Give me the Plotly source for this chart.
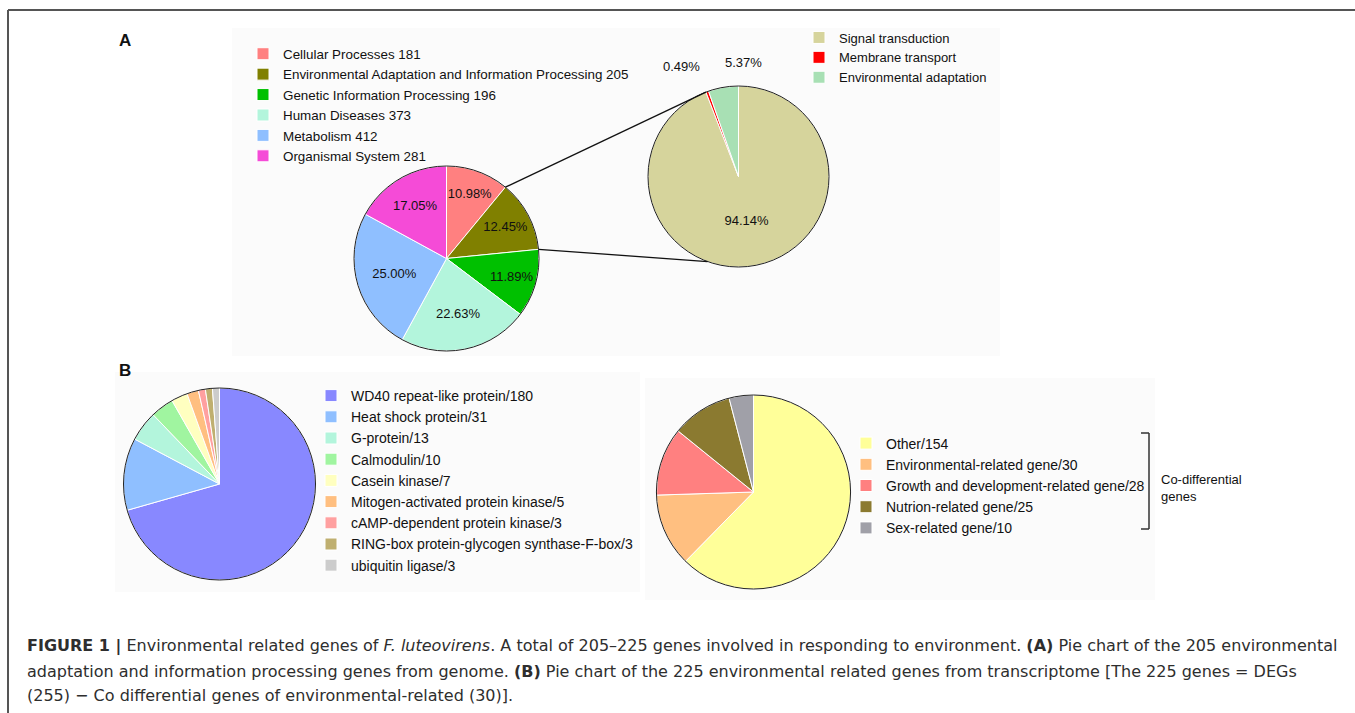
import math
import plotly.graph_objects as go

W, H = 1355, 713

# ---------------- data ----------------
a_cats = ["Cellular Processes", "Environmental Adaptation and Information Processing",
          "Genetic Information Processing", "Human Diseases", "Metabolism", "Organismal System"]
a_counts = [181, 205, 196, 373, 412, 281]
a_pct = ["10.98%", "12.45%", "11.89%", "22.63%", "25.00%", "17.05%"]
a_colors = ["#FF8080", "#808000", "#00C000", "#B3F5DC", "#8FBFFF", "#F54BD7"]

a2_cats = ["Signal transduction", "Membrane transport", "Environmental adaptation"]
a2_values = [94.14, 0.49, 5.37]
a2_pct = ["94.14%", "0.49%", "5.37%"]
a2_colors = ["#D6D49C", "#FF0000", "#A8E0B4"]

b1_cats = ["WD40 repeat-like protein", "Heat shock protein", "G-protein", "Calmodulin",
           "Casein kinase", "Mitogen-activated protein kinase", "cAMP-dependent protein kinase",
           "RING-box protein-glycogen synthase-F-box", "ubiquitin ligase"]
b1_counts = [180, 31, 13, 10, 7, 5, 3, 3, 3]
b1_colors = ["#8888FF", "#8FBFFF", "#B3F5DC", "#A0F5A0", "#FFFFC0", "#FFBF80",
             "#FFA0A0", "#BFAF70", "#CCCCCC"]

b2_cats = ["Other", "Environmental-related gene", "Growth and development-related gene",
           "Nutrion-related gene", "Sex-related gene"]
b2_counts = [154, 30, 28, 25, 10]
b2_colors = ["#FFFF99", "#FFBF80", "#FF8080", "#8B7A30", "#A0A0A8"]

caption_lines = [
    "<b>FIGURE 1 |</b> Environmental related genes of <i>F. luteovirens</i>. A total of 205–225 genes involved in responding to environment. <b>(A)</b> Pie chart of the 205 environmental",
    "adaptation and information processing genes from genome. <b>(B)</b> Pie chart of the 225 environmental related genes from transcriptome [The 225 genes = DEGs",
    "(255) − Co differential genes of environmental-related (30)].",
]

FONT = "Arial, Liberation Sans, sans-serif"
CAP_FONT = "DejaVu Sans, Open Sans, sans-serif"

# ---------------- geometry helpers (pixels -> paper) ----------------
def px(x):
    return x / W

def py(y):
    return 1 - y / H

def dom(cx, cy, r):
    return dict(x=[px(cx - r), px(cx + r)], y=[py(cy + r), py(cy - r)])

PA = (446.5, 258.5, 92.5)
PA2 = (738.5, 176.5, 90.5)
PB1 = (219.5, 484.0, 96.0)
PB2 = (753.5, 492.0, 97.0)

fig = go.Figure()

def add_pie(labels, values, colors, geom, legend, text=None, textpos="none"):
    fig.add_trace(go.Pie(
        labels=labels, values=values, sort=False, direction="clockwise", rotation=0,
        marker=dict(colors=colors, line=dict(color="white", width=1)),
        text=text, textinfo="text" if text is not None else "none",
        textposition=textpos, insidetextorientation="horizontal",
        textfont=dict(family=FONT, size=13, color="#111"),
        domain=dom(*geom), legend=legend, hoverinfo="label+value+percent",
    ))
    # black outer outline
    fig.add_trace(go.Pie(
        values=[1], labels=[" "], marker=dict(colors=["rgba(0,0,0,0)"], line=dict(color="#222", width=1)),
        textinfo="none", showlegend=False, hoverinfo="skip", domain=dom(*geom), sort=False,
    ))

add_pie([f"{c} {n}" for c, n in zip(a_cats, a_counts)], a_counts, a_colors, PA, "legend",
        text=a_pct, textpos="inside")
add_pie(a2_cats, a2_values, a2_colors, PA2, "legend2",
        text=a2_pct, textpos=["inside", "none", "none"])
add_pie([f"{c}/{n}" for c, n in zip(b1_cats, b1_counts)], b1_counts, b1_colors, PB1, "legend3")
add_pie([f"{c}/{n}" for c, n in zip(b2_cats, b2_counts)], b2_counts, b2_colors, PB2, "legend4")

# ---------------- shapes ----------------
shapes = []
# faint panel backgrounds
for x0, y0, x1, y1 in [(232, 28, 1000, 356), (115, 372, 640, 592), (645, 378, 1155, 600)]:
    shapes.append(dict(type="rect", xref="paper", yref="paper", x0=px(x0), x1=px(x1),
                       y0=py(y1), y1=py(y0), fillcolor="#FBFBFB", line=dict(width=0), layer="below"))

def on_circle(geom, frac):
    cx, cy, r = geom
    t = 2 * math.pi * frac
    return cx + r * math.sin(t), cy - r * math.cos(t)

tot_a = sum(a_counts)
s1 = on_circle(PA, a_counts[0] / tot_a)
s2 = on_circle(PA, (a_counts[0] + a_counts[1]) / tot_a)
e1 = on_circle(PA2, a2_values[0] / sum(a2_values))
e2 = on_circle(PA2, 200 / 360)
for (x0, y0), (x1, y1) in [(s1, e1), (s2, e2)]:
    shapes.append(dict(type="line", xref="paper", yref="paper", x0=px(x0), y0=py(y0),
                       x1=px(x1), y1=py(y1), line=dict(color="#111", width=1.3)))

# bracket
for x0, y0, x1, y1 in [(1149, 433, 1149, 529), (1141, 433, 1149, 433), (1141, 529, 1149, 529)]:
    shapes.append(dict(type="line", xref="paper", yref="paper", x0=px(x0), y0=py(y0),
                       x1=px(x1), y1=py(y1), line=dict(color="#333", width=1.5)))

# figure frame (left and top)
shapes.append(dict(type="line", xref="paper", yref="paper", x0=px(8), y0=py(10), x1=px(8), y1=0,
                   line=dict(color="#555", width=2)))
shapes.append(dict(type="line", xref="paper", yref="paper", x0=px(8), y0=py(10), x1=1, y1=py(10),
                   line=dict(color="#555", width=2)))

# ---------------- annotations ----------------
def text_ann(text, x, y, size=13, xanchor="center", family=FONT, color="#111", align="center"):
    return dict(text=text, x=px(x), y=py(y), xref="paper", yref="paper", showarrow=False,
                xanchor=xanchor, yanchor="middle", align=align,
                font=dict(family=family, size=size, color=color))

ann = [
    text_ann("<b>A</b>", 125, 40, size=17),
    text_ann("<b>B</b>", 125, 370, size=17),
    text_ann(a2_pct[1], 682, 67),
    text_ann(a2_pct[2], 743, 63),
    text_ann("Co-differential<br>genes", 1159, 488, xanchor="left", align="left"),
]
for line, yy in zip(caption_lines, [646, 671, 695]):
    ann.append(text_ann(line, 25, yy, size=16, xanchor="left", family=CAP_FONT,
                        color="#2e2e2e", align="left"))

def leg(x, y, size):
    return dict(x=px(x), y=py(y), font=dict(family=FONT, size=size, color="#111"),
                bgcolor="rgba(0,0,0,0)", xanchor="left", yanchor="top", traceorder="normal")

fig.update_layout(
    width=W, height=H, autosize=False,
    margin=dict(l=0, r=0, t=0, b=0),
    paper_bgcolor="white", plot_bgcolor="white",
    shapes=shapes, annotations=ann,
    legend=leg(243, 38.5, 13.4),
    legend2=leg(799, 22.5, 13),
    legend3=leg(311, 380, 14),
    legend4=leg(846, 427.5, 14),
)

fig.write_html("out.html")
